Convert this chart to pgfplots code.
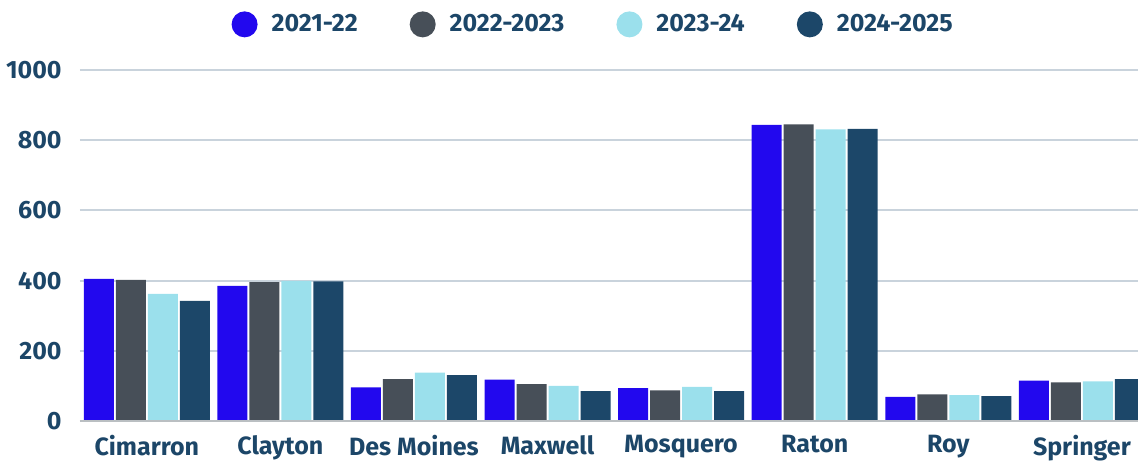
\documentclass[border=0pt]{standalone}
\usepackage{pgfplots}
\pgfplotsset{compat=1.18}
\usepackage{fontspec}
\setmainfont{Fira Sans}

\definecolor{cA}{HTML}{2208EE}
\definecolor{cB}{HTML}{474F58}
\definecolor{cC}{HTML}{9BE0EC}
\definecolor{cD}{HTML}{1C4769}
\definecolor{txt}{HTML}{1C4668}
\definecolor{gridc}{HTML}{C9D3DC}

\pgfplotsset{
  dot legend/.style={legend image code/.code={\fill[##1] (4pt,0pt) circle (6.5pt);}}
}

\begin{document}
\begin{tikzpicture}
\begin{axis}[
    scale only axis,
    width=529pt, height=175.5pt,
    ybar=1pt, bar width=15pt,
    xmin=-0.5, xmax=7.42,
    ymin=0, ymax=1000,
    ytick={0,200,...,1000},
    xtick={0,...,7},
    xticklabels={Cimarron,Clayton,Des Moines,Maxwell,Mosquero,Raton,Roy,Springer},
    axis line style={draw=none},
    major tick length=0pt,
    ymajorgrids, major grid style={gridc, line width=1pt},
    font=\fontsize{12.5}{14}\selectfont\bfseries,
    tick label style={txt},
    /pgf/number format/assume math mode=true,
    /pgf/number format/1000 sep={},
    yticklabel style={inner sep=0pt, xshift=-9pt, anchor=east},
    xticklabel style={inner sep=0pt, yshift=-7pt, anchor=north},
    legend columns=4,
    legend style={at={(0.486,1.13)}, anchor=center, draw=none, fill=none,
      font=\fontsize{12.5}{14}\selectfont\bfseries\color{txt},
      /tikz/every even column/.append style={column sep=24pt}},
    legend cell align=left,
  ]
  \addplot[fill=cA, draw=none, dot legend] coordinates {(0,405) (1,385) (2,96) (3,118) (4,94) (5,844) (6,69) (7,115)};
  \addlegendentry{\hspace{5pt}2021-22}
  \addplot[fill=cB, draw=none, dot legend] coordinates {(0,402) (1,396) (2,119) (3,105) (4,87) (5,845) (6,76) (7,110)};
  \addlegendentry{\hspace{5pt}2022-2023}
  \addplot[fill=cC, draw=none, dot legend] coordinates {(0,362) (1,399) (2,138) (3,100) (4,97) (5,831) (6,74) (7,113)};
  \addlegendentry{\hspace{5pt}2023-24}
  \addplot[fill=cD, draw=none, dot legend] coordinates {(0,342) (1,398) (2,131) (3,85) (4,85) (5,832) (6,71) (7,119)};
  \addlegendentry{\hspace{5pt}2024-2025}
  \draw[color=gridc!70!black!60, line width=1pt] (rel axis cs:0,0) -- (rel axis cs:1,0);
\end{axis}
\pgfresetboundingbox
\path ([xshift=-40pt,yshift=-20pt]current axis.south west) rectangle ([yshift=35pt]current axis.north east);
\end{tikzpicture}
\end{document}
